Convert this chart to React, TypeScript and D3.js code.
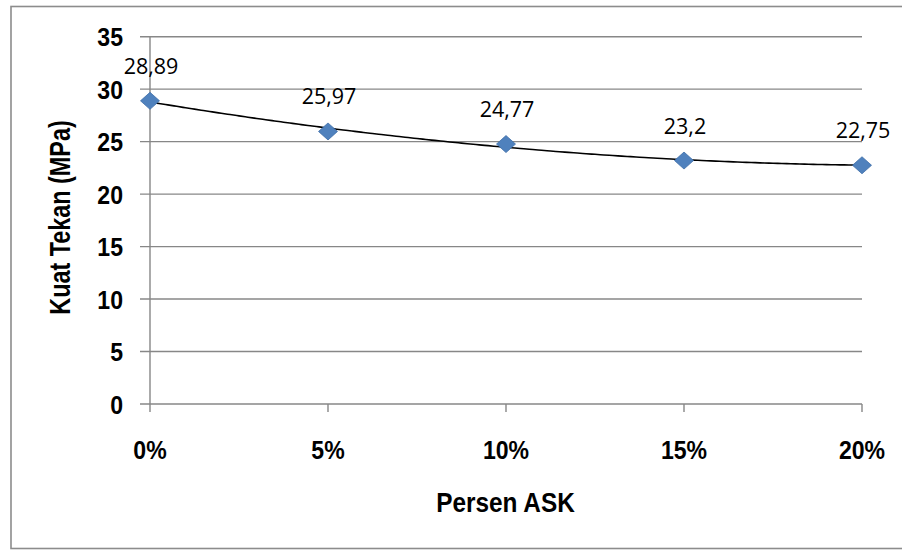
import React from "react";
import * as d3 from "d3";

const categories = [0, 5, 10, 15, 20];
const categoryLabels = ["0%", "5%", "10%", "15%", "20%"];
const kuatTekan = [28.89, 25.97, 24.77, 23.2, 22.75];
const valueLabels = ["28,89", "25,97", "24,77", "23,2", "22,75"];
const yTicks = [0, 5, 10, 15, 20, 25, 30, 35];

const W = 902;
const H = 550;
const GRID = "#878787";
const BOLDFONT = "'Liberation Sans', Arial, sans-serif";

// 2nd-order polynomial least squares fit (Excel-style trendline)
function polyFit2(xs: number[], ys: number[]) {
  const n = xs.length;
  let s1 = 0, s2 = 0, s3 = 0, s4 = 0, t0 = 0, t1 = 0, t2 = 0;
  for (let i = 0; i < n; i++) {
    const x = xs[i], y = ys[i];
    s1 += x; s2 += x * x; s3 += x * x * x; s4 += x * x * x * x;
    t0 += y; t1 += x * y; t2 += x * x * y;
  }
  const A = [
    [n, s1, s2, t0],
    [s1, s2, s3, t1],
    [s2, s3, s4, t2],
  ];
  for (let i = 0; i < 3; i++) {
    for (let k = i + 1; k < 3; k++) {
      const f = A[k][i] / A[i][i];
      for (let j = i; j < 4; j++) A[k][j] -= f * A[i][j];
    }
  }
  const c = [0, 0, 0];
  for (let i = 2; i >= 0; i--) {
    let s = A[i][3];
    for (let j = i + 1; j < 3; j++) s -= A[i][j] * c[j];
    c[i] = s / A[i][i];
  }
  return (x: number) => c[0] + c[1] * x + c[2] * x * x;
}

export default function App() {
  const x = d3.scaleLinear().domain([0, 20]).range([150, 862]);
  const y = d3.scaleLinear().domain([0, 35]).range([404, 36.7]);

  const fit = polyFit2(categories, kuatTekan);
  const trendPts: [number, number][] = d3
    .range(0, 20.001, 0.25)
    .map((v) => [v, fit(v)] as [number, number]);
  const trend = d3
    .line<[number, number]>()
    .x((d) => x(d[0]))
    .y((d) => y(d[1]))
    .curve(d3.curveMonotoneX)(trendPts);

  const diamond = (cx: number, cy: number) =>
    `M${cx},${cy - 8.5}L${cx + 9.5},${cy}L${cx},${cy + 8.5}L${cx - 9.5},${cy}Z`;

  return (
    <svg
      width={W}
      height={H}
      style={{ position: "absolute", left: 0, top: 0, background: "#fff" }}
    >
      {/* outer chart border */}
      <rect x={11} y={6.5} width={W + 20} height={542} fill="none" stroke="#8c8c8c" strokeWidth={1.6} />

      {/* horizontal gridlines */}
      {yTicks.map((t) => (
        <line key={"g" + t} x1={140} x2={x(20)} y1={y(t)} y2={y(t)} stroke={GRID} strokeWidth={1.4} />
      ))}
      {/* y axis line */}
      <line x1={x(0)} x2={x(0)} y1={y(35)} y2={y(0)} stroke={GRID} strokeWidth={1.4} />
      {/* x ticks */}
      {categories.map((c) => (
        <line key={"xt" + c} x1={x(c)} x2={x(c)} y1={y(0)} y2={y(0) + 8} stroke={GRID} strokeWidth={1.4} />
      ))}

      {/* y tick labels */}
      {yTicks.map((t) => (
        <text
          key={"yl" + t}
          transform={`translate(123,${y(t)}) scale(0.87,1)`}
          dy="0.36em"
          textAnchor="end"
          fontFamily={BOLDFONT}
          fontWeight="bold"
          fontSize={26.5}
          fill="#000"
        >
          {t}
        </text>
      ))}

      {/* x tick labels */}
      {categories.map((c, i) => (
        <text
          key={"xl" + c}
          transform={`translate(${x(c)},459) scale(0.87,1)`}
          textAnchor="middle"
          fontFamily={BOLDFONT}
          fontWeight="bold"
          fontSize={26.5}
          fill="#000"
        >
          {categoryLabels[i]}
        </text>
      ))}

      {/* axis titles */}
      <text
        transform="translate(505.5,512) scale(0.87,1)"
        textAnchor="middle"
        fontFamily={BOLDFONT}
        fontWeight="bold"
        fontSize={28}
        fill="#000"
      >
        Persen ASK
      </text>
      <text
        transform="translate(70,217.5) rotate(-90) scale(0.78,1)"
        textAnchor="middle"
        fontFamily={BOLDFONT}
        fontWeight="bold"
        fontSize={30}
        fill="#000"
      >
        Kuat Tekan (MPa)
      </text>

      {/* trendline */}
      <path d={trend ?? ""} fill="none" stroke="#000" strokeWidth={1.6} />

      {/* markers */}
      {categories.map((c, i) => (
        <path
          key={"m" + c}
          d={diamond(x(c), y(kuatTekan[i]))}
          fill="#4F81BD"
          stroke="#3F6FA8"
          strokeWidth={0.8}
        />
      ))}

      {/* data labels */}
      {categories.map((c, i) => (
        <text
          key={"dl" + c}
          x={x(c) + 1}
          y={y(kuatTekan[i]) - 27}
          textAnchor="middle"
          fontFamily="'Open Sans', 'Noto Sans', sans-serif"
          fontSize={21.5}
          fill="#000"
        >
          {valueLabels[i]}
        </text>
      ))}
    </svg>
  );
}
